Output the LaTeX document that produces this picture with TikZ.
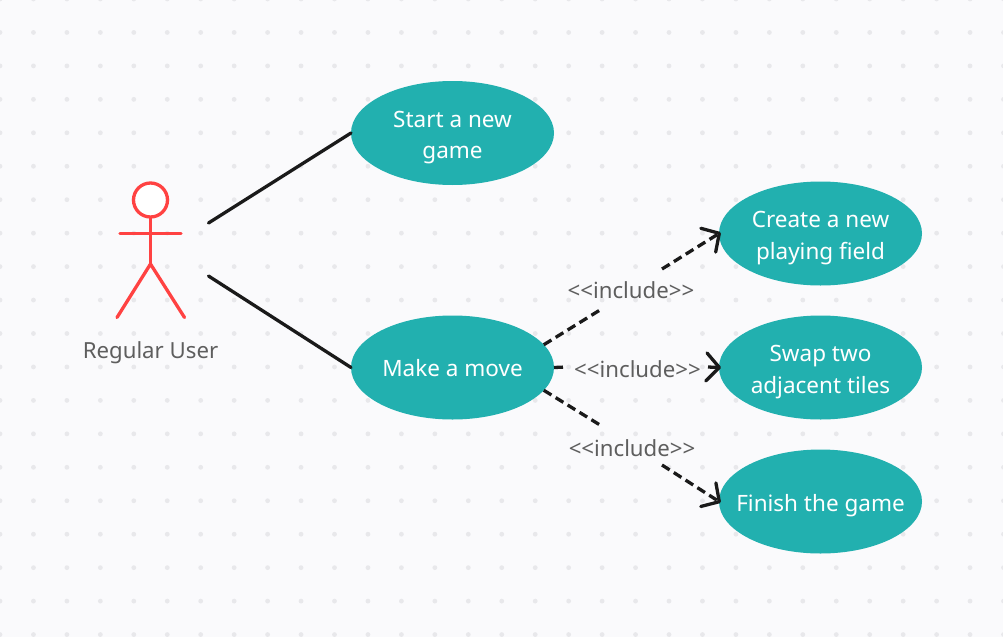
\documentclass[tikz,border=0pt]{standalone}
\usepackage{fontspec}
\setmainfont{Noto Sans}
\usetikzlibrary{arrows.meta,shapes.geometric}
\definecolor{bgc}{HTML}{FAFAFC}
\definecolor{dotc}{HTML}{E8E8EB}
\definecolor{tealc}{HTML}{22B0AF}
\definecolor{redc}{HTML}{FF4242}
\definecolor{inkc}{HTML}{1A1A1A}
\definecolor{labelc}{HTML}{5E5E5E}
\newcommand\ucline[2][-4.5pt]{\raisebox{#1}[\height][\depth]{#2}}
\tikzset{
  usecase/.style={ellipse,fill=tealc,text=white,minimum width=203pt,minimum height=104pt,inner sep=-30pt,outer sep=0pt,align=center,font=\fontsize{22.5}{31.5}\selectfont},
  assoc/.style={draw=inkc,line width=3.3pt,line cap=round},
  incl/.style={draw=inkc,line width=3.3pt,dash pattern=on 9pt off 5pt},
  inclarrow/.style={incl,-{Straight Barb[length=13pt,width=28pt,line width=3.3pt,round]},shorten >=-2pt},
  limb/.style={draw=redc,line width=3.3pt,line cap=round},
  caption/.style={text=labelc,inner sep=0pt,font=\fontsize{22.2}{26}\selectfont},
  gridpoint/.style={fill=dotc,draw=none}
}
\begin{document}
\begin{tikzpicture}[x=1pt,y=-1pt]
\useasboundingbox (0,0) rectangle (1003,637);
\fill[bgc] (0,0) rectangle (1003,637);
\foreach \i in {0,...,30}{\foreach \j in {0,...,19}{
  \fill[gridpoint] ({\i*33.45},{-1+\j*33.45}) circle[radius=2.4pt];
}}
% actor
\draw[limb] (150.5,217) -- (150.5,264);
\draw[limb] (120,233.5) -- (181,233.5);
\draw[limb] (117,317.5) -- (150.5,264) -- (184.5,317.5);
\draw[limb,fill=white] (150.5,200) circle[radius=17pt];
\node[caption] (actor) at (150.5,353) {Regular User};
% use cases
\node[usecase] (start) at (452.5,133) {\ucline{Start a new}\\\ucline{game}};
\node[usecase] (move) at (452.5,367.5) {\ucline[-1pt]{Make a move}};
\node[usecase] (create) at (820.5,233.5) {\ucline{Create a new}\\\ucline{playing field}};
\node[usecase] (swap) at (820.5,367.5) {\ucline{Swap two}\\\ucline{adjacent tiles}};
\node[usecase] (finish) at (820.5,501.5) {\ucline{Finish the game}};
% associations
\coordinate (actorA) at (208.5,223);
\coordinate (actorB) at (208.5,276);
\draw[assoc] (actorA) -- (start.west);
\draw[assoc] (actorB) -- (move.west);
% include labels
\node[caption] (incA) at (631,290.5) {<{}<include>{}>};
\node[caption] (incB) at (637.5,369) {<{}<include>{}>};
\node[caption] (incC) at (632,448) {<{}<include>{}>};
% include connectors, broken around their labels
\coordinate (aOut) at (600,310);
\coordinate (aIn) at (662,269);
\coordinate (bOut) at (566,367);
\coordinate (bIn) at (708,367);
\coordinate (cOut) at (600,425);
\coordinate (cIn) at (662,465);
\draw[incl] (move.14) -- (aOut);
\draw[inclarrow] (aIn) -- (create.west);
\draw[incl] (move.east) -- (bOut);
\draw[inclarrow] (bIn) -- (swap.west);
\draw[incl] (move.-14) -- (cOut);
\draw[inclarrow] (cIn) -- (finish.west);
\end{tikzpicture}
\end{document}
